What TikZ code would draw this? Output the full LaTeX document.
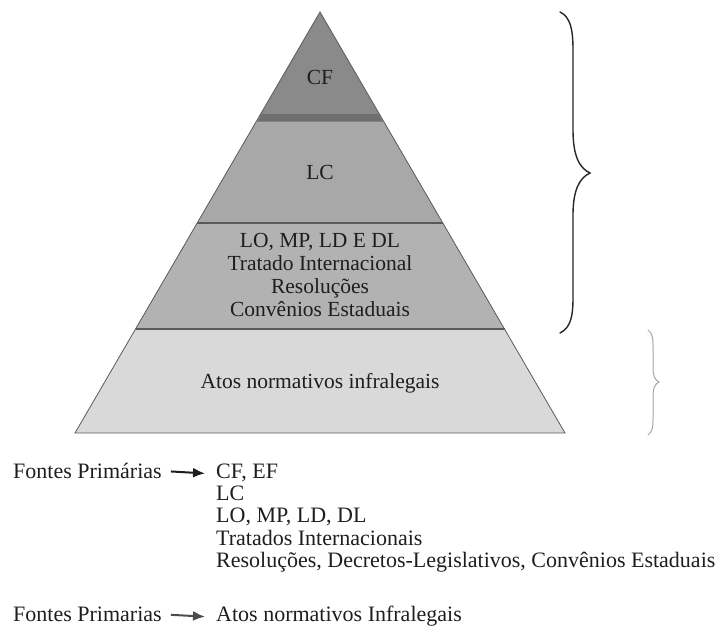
\documentclass[tikz,border=0pt]{standalone}
\usepackage{fontspec}
\setmainfont{Liberation Serif}
\usetikzlibrary{arrows.meta}
\definecolor{cfgray}{HTML}{8A8A8A}
\definecolor{lcgray}{HTML}{A8A8A8}
\definecolor{midgray}{HTML}{B2B2B2}
\definecolor{lowgray}{HTML}{D9D9D9}
\definecolor{bandgray}{HTML}{6E6E6E}
\definecolor{edgegray}{HTML}{5A5A5A}
\definecolor{txt}{HTML}{1E1E1E}
\tikzset{
  sect/.style={draw=edgegray, line width=0.8pt, line join=miter},
  lbl/.style={text=txt, font=\fontsize{21.5}{23}\selectfont, inner sep=0pt, align=center},
  item/.style={text=txt, font=\fontsize{22}{23}\selectfont, inner sep=0pt, anchor=base west},
  arr/.style={-{Latex[length=12pt,width=10pt]}, line width=2pt, draw=txt},
  bigbrace/.style={draw=black!85, line width=1.4pt, line cap=round},
  smallbrace/.style={draw=black!35, line width=1pt, line cap=round},
}
\begin{document}
\begin{tikzpicture}[x=1pt,y=-1pt]
\useasboundingbox (0,0) rectangle (723,627);
% pyramid sections
\fill[cfgray] (320,12) -- (381.1,117) -- (258.9,117) -- cycle;
\fill[lcgray] (258.9,117) -- (381.1,117) -- (442.8,223) -- (197.2,223) -- cycle;
\fill[midgray] (197.2,223) -- (442.8,223) -- (504.5,329) -- (135.5,329) -- cycle;
\fill[lowgray] (135.5,329) -- (504.5,329) -- (565,433) -- (75,433) -- cycle;
% band between CF and LC
\fill[bandgray] (261.8,114) -- (378.2,114) -- (382.8,121.5) -- (257.2,121.5) -- cycle;
\draw[edgegray, line width=1.6pt] (197.2,223) -- (442.8,223);
\draw[edgegray, line width=1.4pt] (135.5,329) -- (504.5,329);
\draw[sect] (320,12) -- (565,433) -- (75,433) -- cycle;
% labels
\node[lbl] (cf) at (320,77) {CF};
\node[lbl] (lc) at (320,172) {LC};
\node[lbl] (mid) at (320,275) {LO, MP, LD E DL\\Tratado Internacional\\Resoluções\\Convênios Estaduais};
\node[lbl] (atos) at (320,383) {Atos normativos infralegais};
% braces
\draw[bigbrace] (560,12) .. controls (570,17) and (573,28) .. (573,50) -- (573,130)
  .. controls (573,155) and (579,168) .. (590,173)
  .. controls (579,178) and (573,191) .. (573,215) -- (573,298)
  .. controls (573,318) and (570,328) .. (560,333);
\draw[smallbrace] (648,330) .. controls (652,333) and (653,337) .. (653,345) -- (653,368)
  .. controls (653,376) and (655,380) .. (659,382)
  .. controls (655,384) and (653,388) .. (653,396) -- (653,420)
  .. controls (653,428) and (652,432) .. (648,435);
% bottom text
\node[item] (fp1) at (13,478) {Fontes Primárias};
\node[item] (l1) at (216,478) {CF, EF};
\node[item] (l2) at (216,500) {LC};
\node[item] (l3) at (216,522) {LO, MP, LD, DL};
\node[item] (l4) at (216,545) {Tratados Internacionais};
\node[item] (l5) at (216,567) {Resoluções, Decretos-Legislativos, Convênios Estaduais};
\node[item] (fp2) at (13,621) {Fontes Primarias};
\node[item] (a2) at (216,621) {Atos normativos Infralegais};
\draw[arr] ([xshift=9pt,yshift=-1pt]fp1.east) -- ([xshift=-11pt,yshift=-1pt]l1.west);
\draw[arr, draw=black!70] ([xshift=9pt,yshift=-1pt]fp2.east) -- ([xshift=-11pt,yshift=-1pt]a2.west);
\end{tikzpicture}
\end{document}
